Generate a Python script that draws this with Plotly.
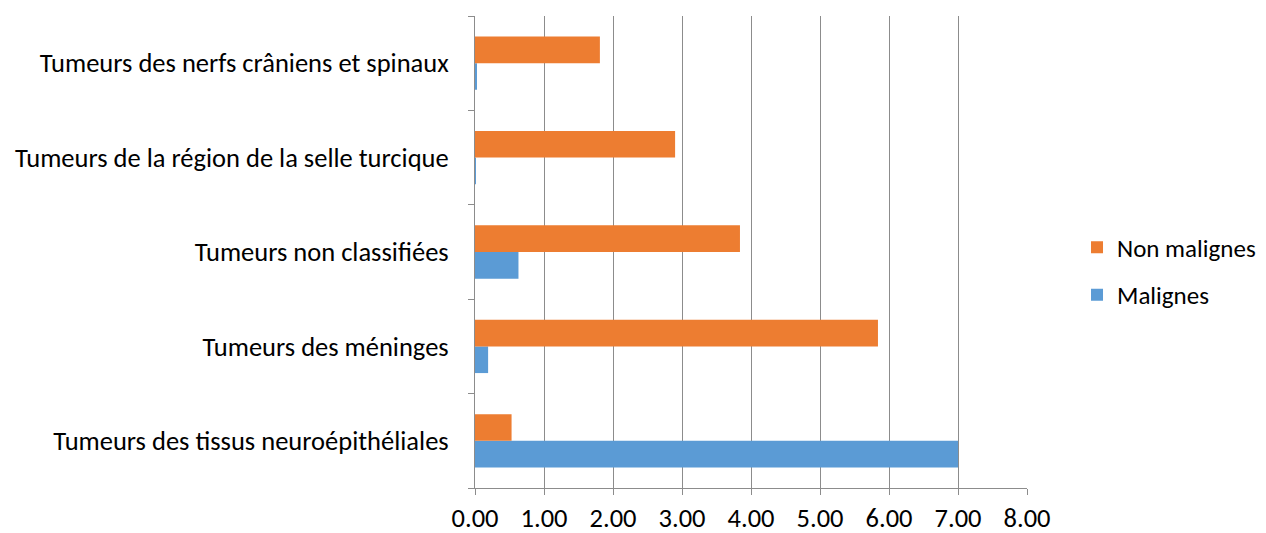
import plotly.graph_objects as go

categories = [
    "Tumeurs des tissus neuroépithéliales",
    "Tumeurs des méninges",
    "Tumeurs non classifiées",
    "Tumeurs de la région de la selle turcique",
    "Tumeurs des nerfs crâniens et spinaux",
]
malignes = [7.00, 0.19, 0.63, 0.01, 0.02]
non_malignes = [0.53, 5.84, 3.84, 2.90, 1.81]
x_ticks = [0, 1, 2, 3, 4, 5, 6, 7, 8]
x_labels = ["0.00", "1.00", "2.00", "3.00", "4.00", "5.00", "6.00", "7.00", "8.00"]

FONT = "Carlito, Calibri, Lato, sans-serif"
GRID = "#8c8c8c"
FS = 26.5

fig = go.Figure()
fig.add_trace(go.Bar(y=categories, x=malignes, orientation="h", name="Malignes",
                     legendgroup="m", legendrank=2,
                     marker=dict(color="#5B9BD5", line=dict(width=0))))
fig.add_trace(go.Bar(y=categories, x=non_malignes, orientation="h", name="Non malignes",
                     legendgroup="n", legendrank=1,
                     marker=dict(color="#ED7D31", line=dict(width=0))))

fig.update_layout(
    width=1258, height=525,
    margin=dict(l=467, r=239, t=8, b=45, autoexpand=False),
    paper_bgcolor="white", plot_bgcolor="white",
    barmode="group", bargap=0.435, bargroupgap=0,
    font=dict(family=FONT, size=FS, color="#000000"),
    showlegend=True,
    legend=dict(x=1.0906, xanchor="left", y=0.46, yanchor="middle",
                traceorder="grouped", font=dict(size=25),
                itemwidth=30, tracegroupgap=12, bgcolor="rgba(0,0,0,0)"),
    xaxis=dict(range=[0, 8], tickvals=x_ticks, ticktext=x_labels,
               showgrid=True, gridcolor=GRID, gridwidth=1,
               zeroline=False, showline=True, linecolor=GRID, linewidth=1,
               ticks="outside", ticklen=6, tickcolor=GRID,
               ticklabelstandoff=0, automargin=False,
               tickfont=dict(size=FS), fixedrange=True),
    yaxis=dict(type="category", categoryorder="array", categoryarray=categories,
               showgrid=False, zeroline=False, showline=True, linecolor=GRID, linewidth=1,
               ticks="outside", ticklen=6, tickcolor=GRID, tickson="boundaries",
               ticklabelstandoff=20, automargin=False,
               tickfont=dict(size=FS), fixedrange=True),
)

fig.write_html("out.html")
